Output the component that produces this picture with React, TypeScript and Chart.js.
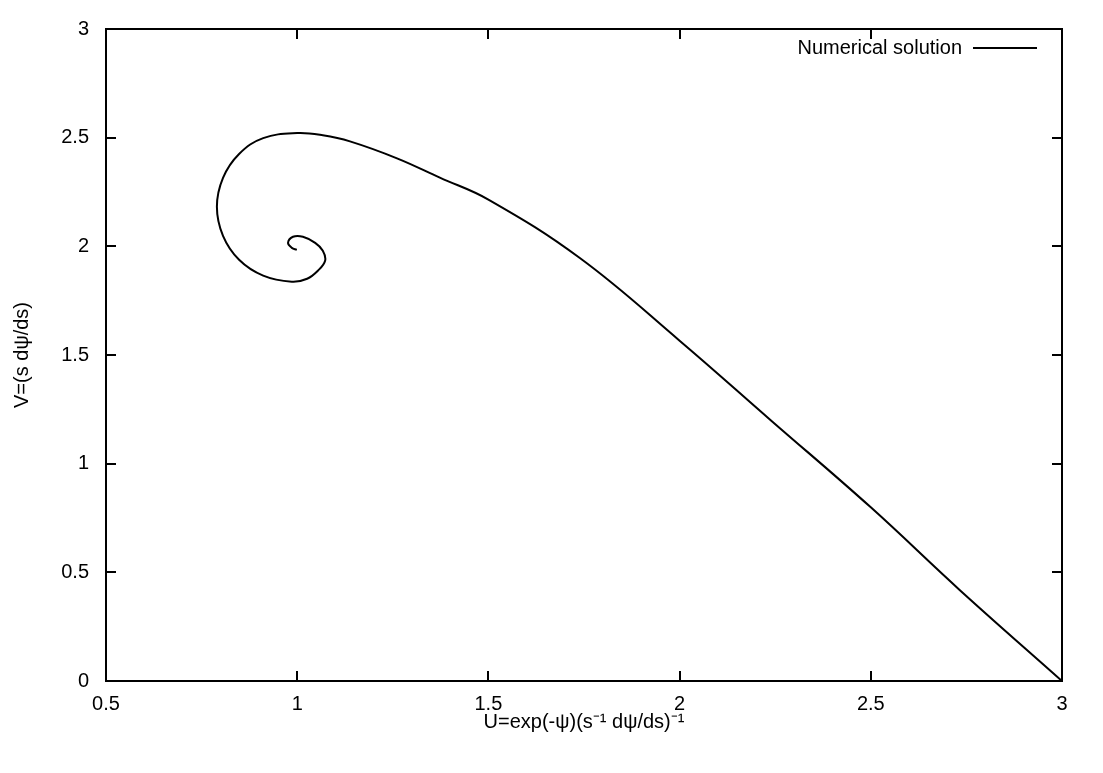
import React, { useEffect, useRef } from "react";
import { Chart, registerables } from "chart.js";

Chart.register(...registerables);

const seriesLabel = "Numerical solution";
const uValues = [3.0, 2.733, 2.5, 2.239, 2.0, 1.74, 1.5, 1.373, 1.261, 1.138, 1.067, 1.0, 0.911, 0.848, 0.806, 0.79, 0.806, 0.848, 0.911, 0.986, 1.026, 1.054, 1.073, 1.067, 1.047, 1.015, 0.989, 0.976, 0.986, 0.999];
const vValues = [0.0, 0.418, 0.799, 1.199, 1.566, 1.945, 2.215, 2.316, 2.405, 2.483, 2.511, 2.521, 2.498, 2.425, 2.315, 2.182, 2.048, 1.938, 1.865, 1.837, 1.851, 1.888, 1.934, 1.98, 2.016, 2.044, 2.044, 2.016, 1.993, 1.984];
const xTicks = [0.5, 1, 1.5, 2, 2.5, 3];
const yTicks = [0, 0.5, 1, 1.5, 2, 2.5, 3];
const xTitle = "U=exp(-\u03c8)(s\u207b\u00b9 d\u03c8/ds)\u207b\u00b9";
const yTitle = "V=(s d\u03c8/ds)";

const FONT = "'Liberation Sans', Arial, sans-serif";
const FS = 20;

const framePlugin = {
  id: "gnuframe",
  afterDraw(chart: any) {
    const { ctx, chartArea } = chart;
    const xs = chart.scales.x;
    const ys = chart.scales.y;
    const { left, right, top, bottom } = chartArea;
    ctx.save();
    ctx.strokeStyle = "#000";
    ctx.lineWidth = 2;
    ctx.lineCap = "butt";
    const tl = 10;
    ctx.beginPath();
    xTicks.forEach((v) => {
      const px = Math.round(xs.getPixelForValue(v));
      ctx.moveTo(px, bottom);
      ctx.lineTo(px, bottom - tl);
      ctx.moveTo(px, top);
      ctx.lineTo(px, top + tl);
    });
    yTicks.forEach((v) => {
      const py = Math.round(ys.getPixelForValue(v));
      ctx.moveTo(left, py);
      ctx.lineTo(left + tl, py);
      ctx.moveTo(right, py);
      ctx.lineTo(right - tl, py);
    });
    ctx.stroke();
    ctx.strokeRect(left, top, right - left, bottom - top);
    // legend
    const ds = chart.data.datasets[0];
    ctx.font = `${FS}px ${FONT}`;
    ctx.fillStyle = "#000";
    ctx.textAlign = "right";
    ctx.textBaseline = "middle";
    const ly = top + 19;
    ctx.fillText(ds.label, right - 100, ly);
    ctx.beginPath();
    ctx.moveTo(right - 89, ly);
    ctx.lineTo(right - 25, ly);
    ctx.stroke();
    ctx.restore();
  },
};

export default function App() {
  const ref = useRef<HTMLCanvasElement | null>(null);
  useEffect(() => {
    document.body.style.margin = "0";
    const canvas = ref.current!;
    const chart = new Chart(canvas, {
      type: "scatter",
      data: {
        datasets: [
          {
            label: seriesLabel,
            data: uValues.map((u, i) => ({ x: u, y: vValues[i] })),
            showLine: true,
            borderColor: "#000",
            borderWidth: 2,
            pointRadius: 0,
            tension: 0.4,
            fill: false,
          },
        ],
      },
      options: {
        animation: false,
        responsive: false,
        maintainAspectRatio: false,
        layout: { padding: { top: 28, right: 41, left: 0, bottom: 0 } },
        plugins: { legend: { display: false }, tooltip: { enabled: false } },
        scales: {
          x: {
            type: "linear",
            min: 0.5,
            max: 3,
            afterBuildTicks: (s: any) => {
              s.ticks = xTicks.map((v) => ({ value: v }));
            },
            afterFit: (s: any) => {
              s.height = 92;
            },
            grid: { display: false, drawTicks: false },
            border: { display: false },
            ticks: { color: "#000", font: { family: FONT, size: FS }, padding: 11, maxRotation: 0, callback: (v: any) => String(v) },
            title: { display: true, text: xTitle, color: "#000", font: { family: FONT, size: FS }, padding: { top: 0, bottom: 39 } },
          },
          y: {
            type: "linear",
            min: 0,
            max: 3,
            afterBuildTicks: (s: any) => {
              s.ticks = yTicks.map((v) => ({ value: v }));
            },
            afterFit: (s: any) => {
              s.width = 106;
            },
            grid: { display: false, drawTicks: false },
            border: { display: false },
            ticks: { color: "#000", font: { family: FONT, size: FS }, padding: 17, callback: (v: any) => String(v) },
            title: { display: true, text: yTitle, color: "#000", font: { family: FONT, size: FS }, padding: { top: 10, bottom: 0 } },
          },
        },
      },
      plugins: [framePlugin],
    });
    return () => chart.destroy();
  }, []);
  return (
    <div style={{ width: 1103, height: 773, background: "#fff" }}>
      <canvas ref={ref} width={1103} height={773} style={{ display: "block" }} />
    </div>
  );
}
